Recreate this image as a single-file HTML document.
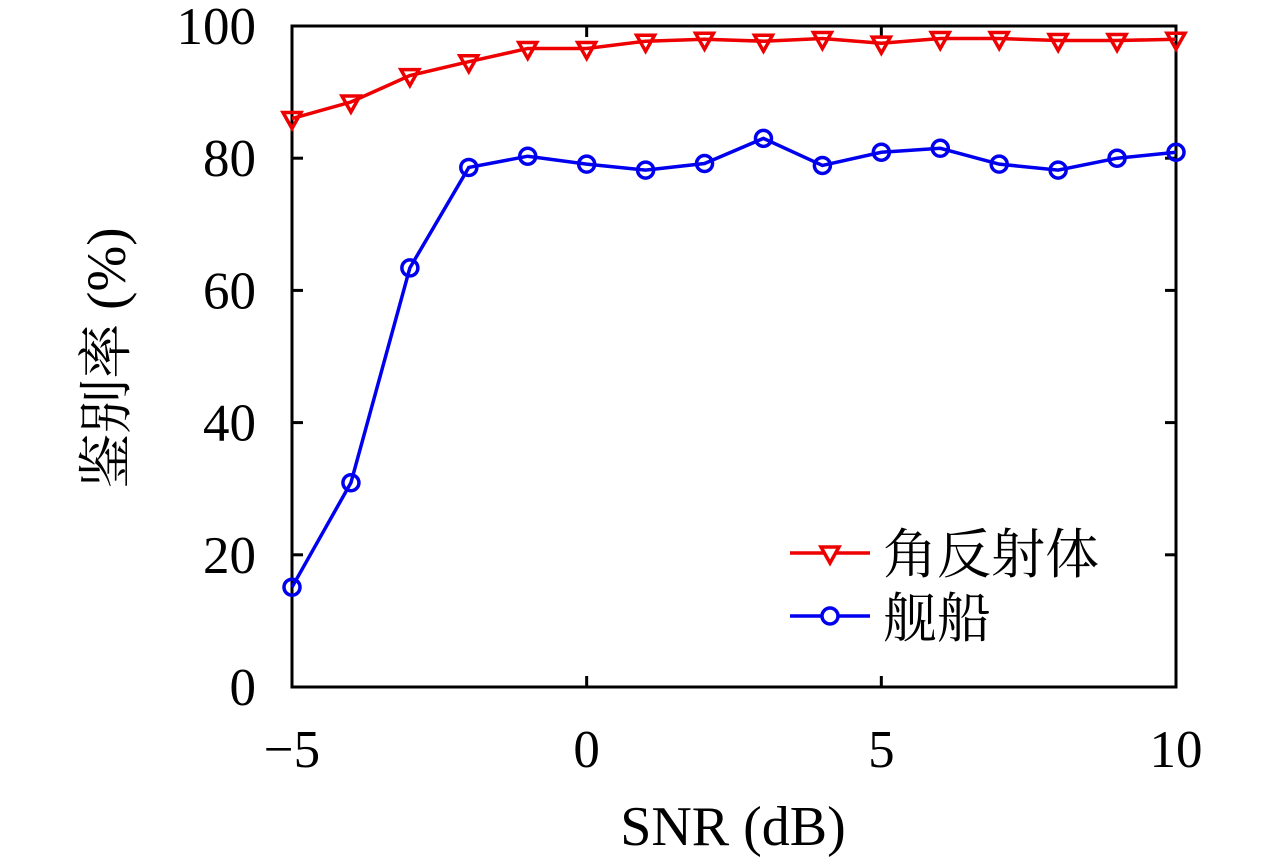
<!DOCTYPE html>
<html><head><meta charset="utf-8"><style>
body{margin:0;background:#fff;}
svg{display:block;}
text{font-family:"Liberation Serif","Noto Serif CJK SC",serif;fill:#000;}
</style></head><body>
<svg id="chart" width="1280" height="862" xmlns="http://www.w3.org/2000/svg">
<g id="axes"></g>
<g id="series"></g>
<text x="733" y="845" text-anchor="middle" font-size="56">SNR (dB)</text>
<text transform="translate(125,358) rotate(-90)" text-anchor="middle" font-size="55">鉴别率 (%)</text>
<g>
 <g>
  <line x1="790" y1="553" x2="870" y2="553" stroke="#e00" stroke-width="3.5"/>
  <polygon points="821,547 839,547 830,563" fill="#fff" stroke="#e00" stroke-width="3.5"/>
  <text x="883" y="573" font-size="54">角反射体</text>
 </g>
 <g>
  <line x1="790" y1="616" x2="870" y2="616" stroke="#00e" stroke-width="3.5"/>
  <circle cx="830" cy="616" r="8" fill="#fff" stroke="#00e" stroke-width="3.5"/>
  <text x="883" y="637" font-size="54">舰船</text>
 </g>
</g>
</svg>
<script>
const xCats=[-5,-4,-3,-2,-1,0,1,2,3,4,5,6,7,8,9,10];
const reflector=[86.0,88.5,92.5,94.6,96.6,96.6,97.7,98.0,97.7,98.1,97.4,98.1,98.1,97.8,97.8,98.0];
const ship=[15.1,30.9,63.4,78.6,80.3,79.1,78.2,79.2,83.0,78.9,80.9,81.5,79.1,78.2,80.0,80.9];
const xTicks=[-5,0,5,10];
const xTickLabels=["\u22125","0","5","10"];
const yTicks=[0,20,40,60,80,100];
const yTickLabels=["0","20","40","60","80","100"];
const NS="http://www.w3.org/2000/svg";
const L=292,R=1176,T=26,B=687;
const xs=v=>L+(v+5)/15*(R-L);
const ys=v=>B-v/100*(B-T);
function mk(tag,attrs,parent){const e=document.createElementNS(NS,tag);for(const k in attrs)e.setAttribute(k,attrs[k]);parent.appendChild(e);return e;}
const ax=document.getElementById('axes');
let f=mk('rect',{x:L,y:T,width:R-L,height:B-T,fill:'none',stroke:'#000','stroke-width':3},ax);


xTicks.forEach((v,i)=>{const x=xs(v);
 mk('line',{x1:x,y1:B,x2:x,y2:B-11,stroke:'#000','stroke-width':3},ax);
 mk('line',{x1:x,y1:T,x2:x,y2:T+11,stroke:'#000','stroke-width':3},ax);
 const t=mk('text',{x:x,y:767,'text-anchor':'middle','font-size':53},ax);t.textContent=xTickLabels[i];
 
 
});
yTicks.forEach((v,i)=>{const y=ys(v);
 mk('line',{x1:L,y1:y,x2:L+11,y2:y,stroke:'#000','stroke-width':3},ax);
 mk('line',{x1:R,y1:y,x2:R-11,y2:y,stroke:'#000','stroke-width':3},ax);
 const t=mk('text',{x:256,y:y+18,'text-anchor':'end','font-size':53},ax);t.textContent=yTickLabels[i];
 
 
});
const sg=document.getElementById('series');
function series(vals,color,name,marker){
 const g=mk('g',{},sg);
 
 
 mk('polyline',{points:vals.map((v,i)=>xs(xCats[i])+','+ys(v)).join(' '),fill:'none',stroke:color,'stroke-width':3.5},g);
 vals.forEach((v,i)=>{const x=xs(xCats[i]),y=ys(v);let m;
  if(marker==='tri') m=mk('polygon',{points:`${x-9},${y-6} ${x+9},${y-6} ${x},${y+10}`,fill:'none',stroke:color,'stroke-width':3.5},g);
  else m=mk('circle',{cx:x,cy:y,r:8,fill:'none',stroke:color,'stroke-width':3.5},g);
  
  
 });
}
series(reflector,'#e00','corner-reflector-series','tri');
series(ship,'#00e','ship-series','circle');
</script>
</body></html>
